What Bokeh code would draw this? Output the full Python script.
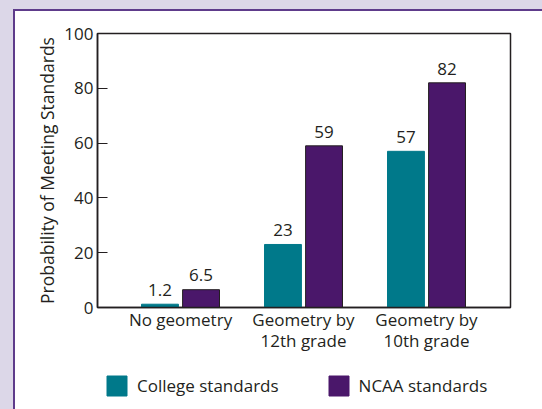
from bokeh.plotting import figure
from bokeh.models import (ColumnDataSource, FixedTicker, Legend, LegendItem,
                          Column, Range1d)
from bokeh.transform import dodge
from bokeh.core.properties import value
from bokeh.embed import file_html
from bokeh.resources import INLINE

# Chart data
categories = ["No geometry", "Geometry by\n12th grade", "Geometry by\n10th grade"]
college = [1.2, 23, 57]
ncaa = [6.5, 59, 82]
y_ticks = [0, 20, 40, 60, 80, 100]
series_names = ["College standards", "NCAA standards"]

TEAL = "#00798a"
PURPLE = "#4a176a"
LAVENDER = "#dcd7e8"
PANEL_EDGE = "#5e3b8b"
INK = "#231f20"
FONT = "Open Sans"

def fmt(v):
    return ("%g" % v)

xs = list(range(len(categories)))
src = ColumnDataSource(dict(
    x=xs,
    college=college,
    ncaa=ncaa,
    college_lbl=[fmt(v) for v in college],
    ncaa_lbl=[fmt(v) for v in ncaa],
))

p = figure(width=527, height=348, margin=0,
           x_range=Range1d(-0.675, 2.683), y_range=Range1d(0, 100),
           output_backend="svg", toolbar_location=None,
           min_border_left=82, min_border_right=32,
           min_border_top=22, min_border_bottom=52,
           border_fill_color="white", background_fill_color="white")

p.outline_line_color = INK
p.outline_line_width = 1.5
p.grid.visible = False

bw = 0.3
off = 0.167
p.vbar(x=dodge("x", -off, range=p.x_range), top="college", width=bw,
       source=src, fill_color=TEAL, line_color=TEAL, line_width=1)
p.vbar(x=dodge("x", off, range=p.x_range), top="ncaa", width=bw,
       source=src, fill_color=PURPLE, line_color=INK, line_width=1)

# value labels, lifted a little above each bar top
lift = 5.2
for col, lbl, dx in (("college", "college_lbl", -off), ("ncaa", "ncaa_lbl", off)):
    p.text(x=dodge("x", dx, range=p.x_range), y=dodge(col, lift, range=p.y_range),
           text=lbl, source=src,
           text_align="center", text_baseline="alphabetic",
           text_font=value(FONT), text_font_size="17px", text_color=INK)

# y axis
ya = p.yaxis[0]
ya.ticker = FixedTicker(ticks=y_ticks)
ya.major_tick_in = 10
ya.major_tick_out = 0
ya.minor_tick_line_color = None
ya.major_tick_line_color = INK
ya.major_tick_line_width = 1.2
ya.axis_line_color = INK
ya.axis_line_width = 1.5
ya.major_label_standoff = 4
ya.major_label_text_font = FONT
ya.major_label_text_font_size = "17px"
ya.major_label_text_color = INK
ya.axis_label = "Probability of Meeting Standards"
ya.axis_label_text_font = FONT
ya.axis_label_text_font_style = "normal"
ya.axis_label_text_font_size = "17.5px"
ya.axis_label_text_color = INK
ya.axis_label_standoff = 2

# x axis
xa = p.xaxis[0]
xa.ticker = FixedTicker(ticks=xs)
xa.major_label_overrides = {i: c for i, c in zip(xs, categories)}
xa.major_tick_in = 0
xa.major_tick_out = 0
xa.minor_tick_line_color = None
xa.axis_line_color = INK
xa.axis_line_width = 1.5
xa.major_label_standoff = 0
xa.major_label_text_font = FONT
xa.major_label_text_font_size = "17px"
xa.major_label_text_color = INK
xa.major_label_text_line_height = 0.92

# legend strip under the chart; its bars sit outside the visible range
lf = figure(width=527, height=50, margin=0,
            x_range=Range1d(-0.675, 2.683), y_range=Range1d(1000, 1001),
            output_backend="svg", toolbar_location=None,
            x_axis_type=None, y_axis_type=None,
            min_border=0, outline_line_color=None,
            border_fill_color="white", background_fill_color="white")
lf.grid.visible = False
l_col = lf.vbar(x="x", top="college", width=bw, source=src,
                fill_color=TEAL, line_color=TEAL)
l_ncaa = lf.vbar(x="x", top="ncaa", width=bw, source=src,
                 fill_color=PURPLE, line_color=PURPLE)

legend = Legend(items=[LegendItem(label=series_names[0], renderers=[l_col]),
                       LegendItem(label=series_names[1], renderers=[l_ncaa])],
                orientation="horizontal", location=(7, 11),
                glyph_width=25, glyph_height=25, label_standoff=8, spacing=47,
                padding=0, margin=0, border_line_alpha=0,
                background_fill_alpha=0,
                label_text_font=FONT, label_text_font_size="17px",
                label_text_color=INK)
lf.add_layout(legend, "center")

# white card with a purple edge on its top and left, on a lavender page
card = Column(children=[p, lf], width=527, height=398, margin=(2, 0, 0, 2),
              spacing=0, styles={"background-color": "white"})
panel = Column(children=[card], width=529, height=400, margin=(9, 0, 0, 13),
               styles={"background-color": PANEL_EDGE})
page = Column(children=[panel], width=542, height=409, margin=0,
              styles={"background-color": LAVENDER})

open("out.html", "w").write(file_html(page, INLINE))
